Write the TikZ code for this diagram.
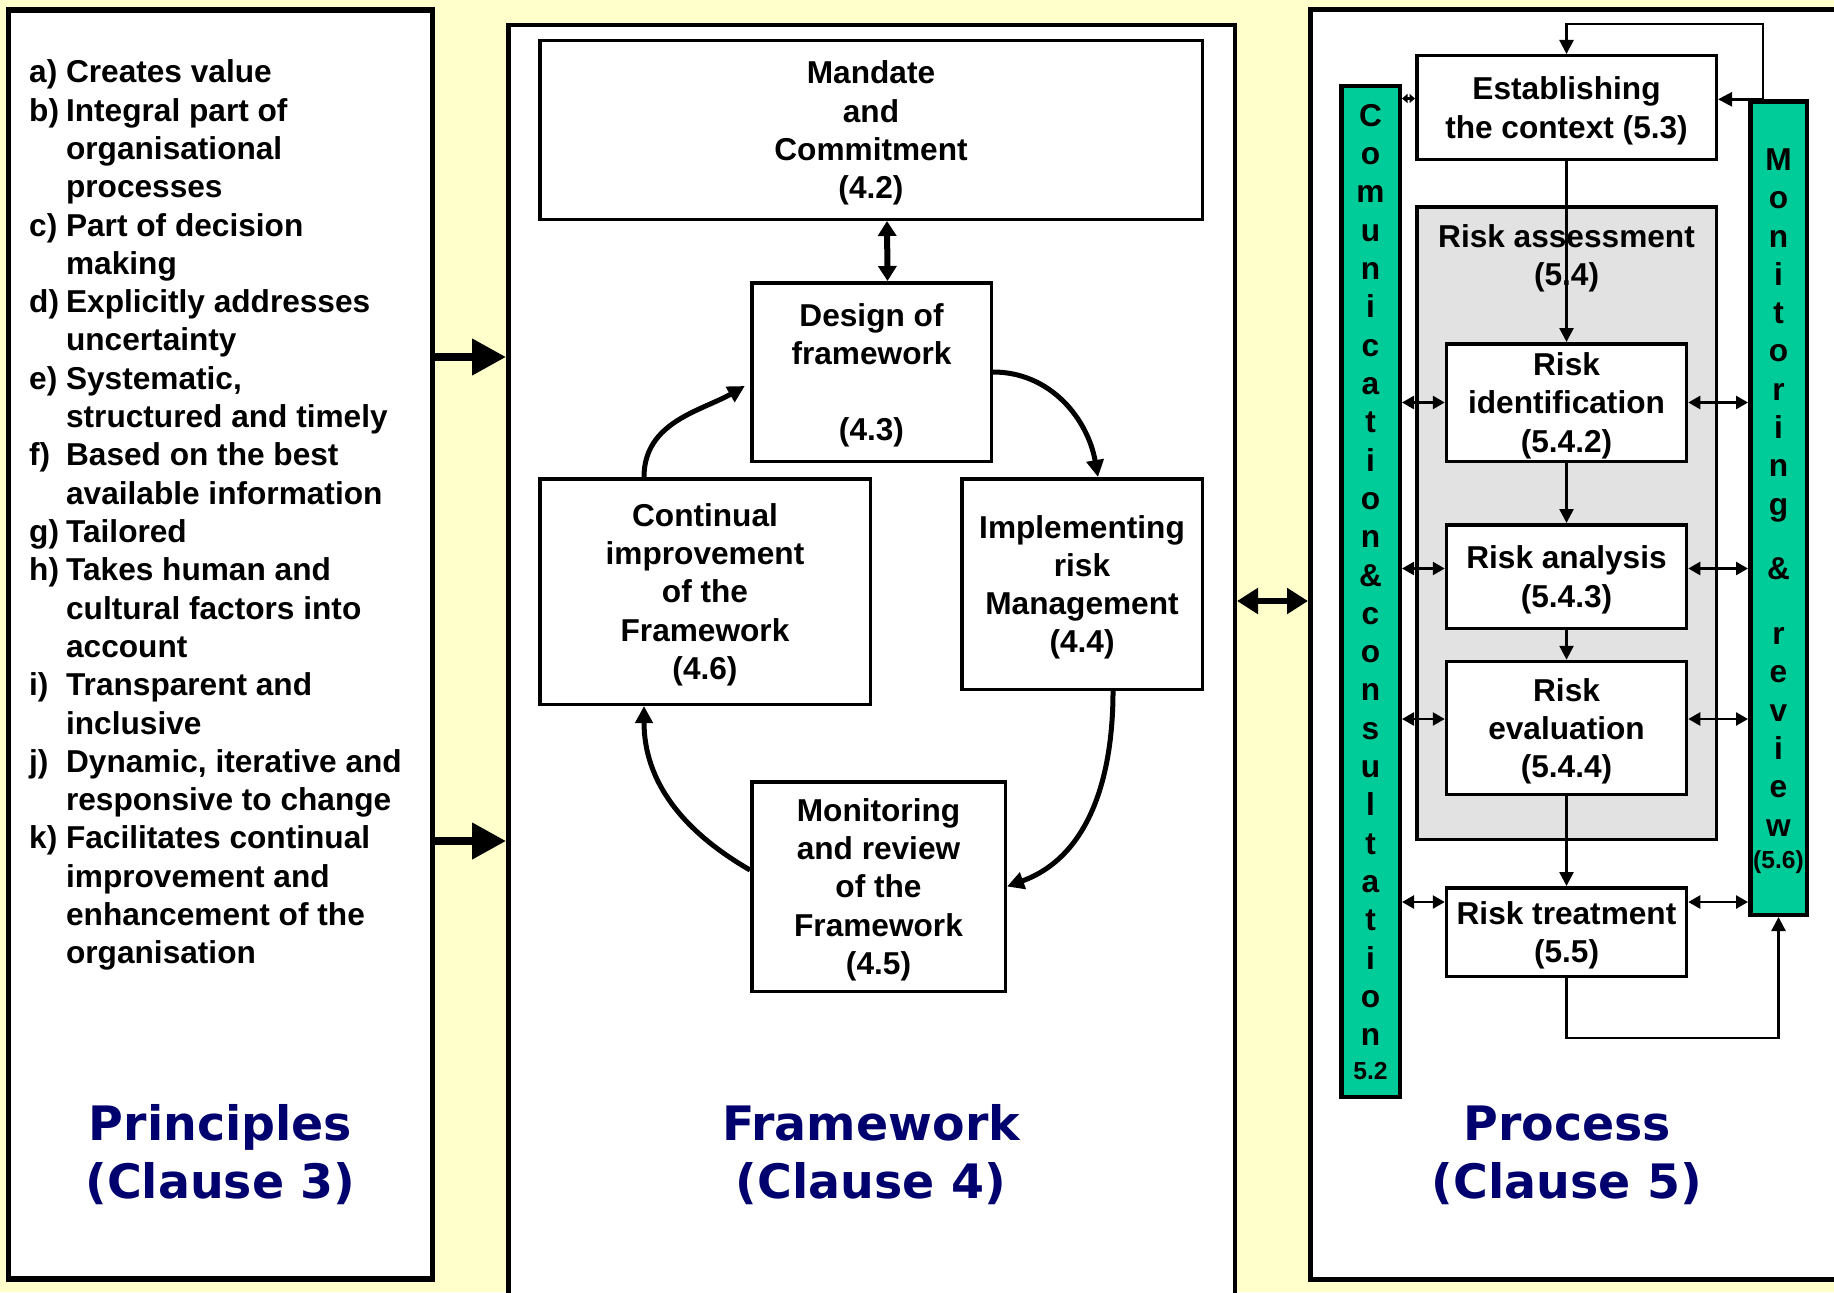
\documentclass[tikz,border=0pt]{standalone}
\usepackage{fontspec}
\setmainfont{Liberation Sans}
\newfontfamily\headfont{DejaVu Sans}
\usepackage{tikz}
\usetikzlibrary{positioning}
\usetikzlibrary{arrows.meta}
\definecolor{bgyellow}{RGB}{255,255,204}
\definecolor{barteal}{RGB}{0,204,153}
\definecolor{headblue}{RGB}{0,0,110}
\definecolor{assessgray}{RGB}{226,226,226}

\begin{document}
\begin{tikzpicture}[
						every node/.style={font=\bfseries\fontsize{9}{10.9}\selectfont},
						panelnode/.style={rectangle, draw=black, fill=white, line width=0.045cm},
						boxnode/.style={rectangle, draw=black, fill=white, line width=0.035cm, align=center, inner xsep=2pt, inner ysep=1pt, text depth=-0.5pt},
						barnode/.style={rectangle, draw=black, fill=barteal, line width=0.045cm},
						lettercol/.style={align=center, anchor=base, inner sep=0pt},
						smalltext/.style={font=\bfseries\fontsize{7}{8}\selectfont, anchor=base, inner sep=0pt},
						headtext/.style={font=\headfont\bfseries\fontsize{13.5}{16.3}\selectfont, text=headblue, align=center, anchor=base},
						bigarrow/.style={line width=0.075cm, -{Triangle[length=0.34cm,width=0.35cm]}},
						bigdbl/.style={line width=0.06cm, {Triangle[length=0.21cm,width=0.25cm]}-{Triangle[length=0.21cm,width=0.25cm]}},
						middbl/.style={line width=0.06cm, {Triangle[length=0.15cm,width=0.18cm]}-{Triangle[length=0.15cm,width=0.18cm]}},
						loopline/.style={line width=0.05cm, -{Triangle[length=0.17cm,width=0.17cm]}},
						thinline/.style={line width=0.025cm, -{Triangle[length=0.14cm,width=0.14cm]}},
						thindbl/.style={line width=0.025cm, {Triangle[length=0.12cm,width=0.13cm]}-{Triangle[length=0.12cm,width=0.13cm]}},
						tinydbl/.style={line width=0.025cm, {Triangle[length=0.055cm,width=0.09cm]}-{Triangle[length=0.055cm,width=0.09cm]}},
						]
						\useasboundingbox (0,0) rectangle (18.34,12.92);
						\clip (0,0) rectangle (18.34,12.92);
						\fill[bgyellow] (0,0) rectangle (18.34,12.92);
						
						%Panels
						\node[panelnode, line width=0.055cm, minimum width=4.235cm, minimum height=12.685cm] (princ) at (2.205,6.475) {};
						\node[panelnode, minimum width=7.265cm, minimum height=13.05cm] (frame) at (8.715,6.144) {};
						\node[panelnode, minimum width=5.5975cm, minimum height=12.695cm] (proc) at (15.901,6.475) {};
						
						%Principles
						\node[anchor=base west, inner sep=0pt] (plist) at (0.285,12.092) {%
							\begin{tabular}[t]{@{}l@{\hspace{2pt}}l@{}}
								a) & Creates value\\
								b) & Integral part of\\
								   & organisational\\
								   & processes\\
								c) & Part of decision\\
								   & making\\
								d) & Explicitly addresses\\
								   & uncertainty\\
								e) & Systematic,\\
								   & structured and timely\\
								f) & Based on the best\\
								   & available information\\
								g) & Tailored\\
								h) & Takes human and\\
								   & cultural factors into\\
								   & account\\
								i) & Transparent and\\
								   & inclusive\\
								j) & Dynamic, iterative and\\
								   & responsive to change\\
								k) & Facilitates continual\\
								   & improvement and\\
								   & enhancement of the\\
								   & organisation
							\end{tabular}};
						\node[headtext] (princhead) at (2.205,0.94) {Principles\\(Clause 3)};
						
						%Framework
						\node[boxnode, minimum width=6.625cm, minimum height=1.785cm] (mandate) at (8.71,11.62) {Mandate\\and\\Commitment\\(4.2)};
						\node[boxnode, minimum width=2.395cm, minimum height=1.785cm] (design) at (8.715,9.20) {Design of\\framework\\[10.9pt](4.3)};
						\node[boxnode, minimum width=3.305cm, minimum height=2.255cm] (contin) at (7.05,7.005) {Continual\\improvement\\of the\\Framework\\(4.6)};
						\node[boxnode, minimum width=2.405cm, minimum height=2.105cm] (impl) at (10.82,7.08) {Implementing\\risk\\Management\\(4.4)};
						\node[boxnode, minimum width=2.535cm, minimum height=2.095cm] (monit) at (8.785,4.055) {Monitoring\\and review\\of the\\Framework\\(4.5)};
						\node[headtext] (framehead) at (8.71,0.94) {Framework\\(Clause 4)};
						
						%Process
						\node[barnode, minimum width=0.585cm, minimum height=10.105cm] (comm) at (13.705,7.005) {};
						\node[barnode, minimum width=0.565cm, minimum height=8.132cm] (monrev) at (17.785,7.8385) {};
						\node[lettercol] (commtext) at (13.705,2.463) {C\\o\\m\\u\\n\\i\\c\\a\\t\\i\\o\\n\\\&\\c\\o\\n\\s\\u\\l\\t\\a\\t\\i\\o\\n};
						\node[smalltext] (commnum) at (13.705,2.13) {5.2};
						\node[lettercol] (montext) at (17.785,4.559) {M\\o\\n\\i\\t\\o\\r\\i\\n\\g\\[7.5pt]\&\\[7.5pt]r\\e\\v\\i\\e\\w};
						\node[smalltext] (monnum) at (17.785,4.24) {(5.6)};
						\node[boxnode, minimum width=2.995cm, minimum height=1.035cm] (ctx) at (15.665,11.845) {Establishing\\the context (5.3)};
						\node[boxnode, fill=assessgray, minimum width=2.995cm, minimum height=6.325cm] (assess) at (15.665,7.69) {};
						\node[align=center, below=0.07cm of assess.north] (assesslbl) {Risk assessment\\(5.4)};
						\node[boxnode, minimum width=2.40cm, minimum height=1.175cm] (ident) at (15.665,8.895) {Risk\\identification\\(5.4.2)};
						\node[boxnode, minimum width=2.40cm, minimum height=1.035cm] (analy) at (15.665,7.155) {Risk analysis\\(5.4.3)};
						\node[boxnode, minimum width=2.40cm, minimum height=1.33cm] (evalu) at (15.665,5.64) {Risk\\evaluation\\(5.4.4)};
						\node[boxnode, minimum width=2.40cm, minimum height=0.885cm] (treat) at (15.665,3.60) {Risk treatment\\(5.5)};
						\node[headtext] (prochead) at (15.67,0.94) {Process\\(Clause 5)};
						
						%Lines between panels
						\coordinate (tie1) at (4.7,9.35);
						\coordinate (tie2) at (4.7,4.51);
						\coordinate (tie3) at (12.7,6.91);
						\draw[bigarrow] (princ.east |- tie1) -- (frame.west |- tie1);
						\draw[bigarrow] (princ.east |- tie2) -- (frame.west |- tie2);
						\draw[bigdbl] (frame.east |- tie3) -- (proc.west |- tie3);
						
						%Lines in framework
						\draw[middbl] ([xshift=0.16cm]mandate.south) -- ([xshift=0.16cm]design.north);
						\draw[loopline] (design.east) to[out=0,in=100] ([xshift=0.16cm]impl.north);
						\draw[loopline] ([xshift=0.31cm]impl.south) to[out=-90,in=20] (monit.east);
						\draw[loopline] ([yshift=0.165cm]monit.west) to[out=150,in=-90] ([xshift=-0.61cm]contin.south);
						\draw[loopline, shorten >=0.06cm] ([xshift=-0.61cm]contin.north) to[out=90,in=210] ([yshift=-0.11cm]design.west);
						
						%Lines in process
						\draw[thinline] (ctx) -- (ident);
						\draw[thinline] (ident) -- (analy);
						\draw[thinline] (analy) -- (evalu);
						\draw[thinline] (evalu) -- (treat);
						\draw[thinline] (treat.south) -- ++(0,-0.6) -| (monrev.south);
						\coordinate (mtop) at ([xshift=-0.155cm]monrev.north);
						\coordinate (ttop) at (17.63,12.68);
						\draw[thinline] (mtop) -- (ttop) -| (ctx.north);
						\draw[thinline] (mtop) -- (mtop -| ctx.east);
						\draw[tinydbl] ([yshift=0.09cm]ctx.west -| comm.east) -- ([yshift=0.09cm]ctx.west);
						\draw[thindbl] (ident.west -| comm.east) -- (ident.west);
						\draw[thindbl] (ident.east) -- (ident.east -| monrev.west);
						\draw[thindbl] ([yshift=0.08cm]analy.west -| comm.east) -- ([yshift=0.08cm]analy.west);
						\draw[thindbl] ([yshift=0.08cm]analy.east) -- ([yshift=0.08cm]analy.east -| monrev.west);
						\draw[thindbl] ([yshift=0.09cm]evalu.west -| comm.east) -- ([yshift=0.09cm]evalu.west);
						\draw[thindbl] ([yshift=0.09cm]evalu.east) -- ([yshift=0.09cm]evalu.east -| monrev.west);
						\draw[thindbl] ([yshift=0.30cm]treat.west -| comm.east) -- ([yshift=0.30cm]treat.west);
						\draw[thindbl] ([yshift=0.30cm]treat.east) -- ([yshift=0.30cm]treat.east -| monrev.west);
					\end{tikzpicture}
\end{document}
